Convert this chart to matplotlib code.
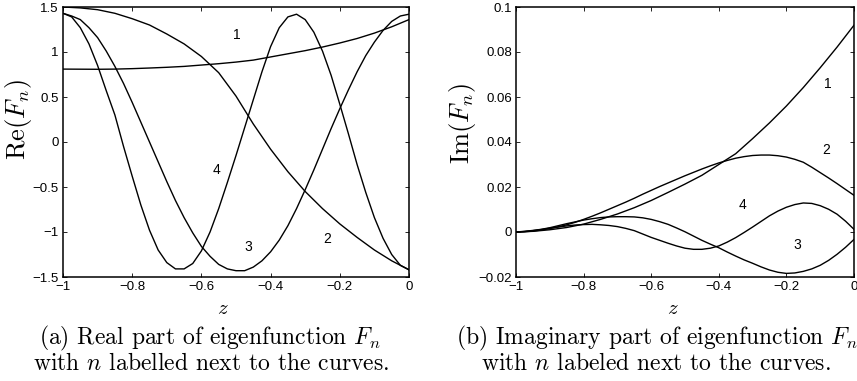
import matplotlib
matplotlib.use('Agg')
import matplotlib.pyplot as plt

plt.rcParams['font.family'] = ['Liberation Sans', 'DejaVu Sans']
plt.rcParams['mathtext.fontset'] = 'cm'

# z grid of the readings (0.025 step for the fast curves, 0.05 for the slow ones)
z_fine = [-1 + 0.025 * i for i in range(41)]
z_coarse = [-1 + 0.05 * i for i in range(21)]

# Re(F_n)
re_f1 = [0.810, 0.809, 0.808, 0.810, 0.815, 0.822, 0.830, 0.840, 0.855, 0.870,
         0.888, 0.910, 0.945, 0.980, 1.015, 1.055, 1.100, 1.150, 1.210, 1.280, 1.360]
re_f2 = [1.50, 1.49, 1.47, 1.43, 1.37, 1.30, 1.20, 1.09, 0.95, 0.77,
         0.51, 0.20, -0.08, -0.33, -0.55, -0.74, -0.91, -1.06, -1.20, -1.32, -1.42]
re_f3 = [1.43, 1.40, 1.36, 1.27, 1.16, 1.01, 0.84, 0.65, 0.44, 0.22,
         0.00, -0.22, -0.44, -0.65, -0.84, -1.01, -1.16, -1.27, -1.36, -1.41,
         -1.43, -1.43, -1.39, -1.32, -1.22, -1.09, -0.93, -0.74, -0.53, -0.31,
         -0.08, 0.15, 0.37, 0.58, 0.78, 0.96, 1.11, 1.24, 1.34, 1.40, 1.42]
re_f4 = [1.43, 1.39, 1.27, 1.09, 0.85, 0.57, 0.30, -0.05, -0.38, -0.70,
         -0.98, -1.20, -1.34, -1.41, -1.41, -1.35, -1.21, -1.00, -0.74, -0.45,
         -0.15, 0.16, 0.47, 0.78, 1.06, 1.27, 1.39, 1.42, 1.36, 1.22,
         1.01, 0.74, 0.42, 0.09, -0.25, -0.56, -0.84, -1.07, -1.25, -1.37, -1.42]

# Im(F_n)
im_f1 = [0.0, 0.0003, 0.0010, 0.0020, 0.0035, 0.0056, 0.0080, 0.0108, 0.0140, 0.0176,
         0.0213, 0.0252, 0.0300, 0.0348, 0.0415, 0.0485, 0.0560, 0.0642, 0.0730, 0.0822, 0.0919]
im_f2 = [0.0, 0.0001, 0.0004, 0.0009, 0.0015, 0.0023, 0.0032, 0.0043, 0.0056, 0.0070,
         0.0085, 0.0101, 0.0117, 0.0133, 0.0150, 0.0168, 0.0185, 0.0202, 0.0218, 0.0234,
         0.0250, 0.0265, 0.0280, 0.0294, 0.0307, 0.0318, 0.0328, 0.0335, 0.0340, 0.0342,
         0.0342, 0.0339, 0.0333, 0.0323, 0.0310, 0.0288, 0.0264, 0.0240, 0.0215, 0.0189, 0.0163]
im_f3 = [0.0, 0.0003, 0.0007, 0.0012, 0.0019, 0.0028, 0.0037, 0.0045, 0.0053, 0.0059,
         0.0064, 0.0067, 0.0068, 0.0068, 0.0067, 0.0063, 0.0056, 0.0046, 0.0034, 0.0018,
         0.0001, -0.0018, -0.0037, -0.0054, -0.0070, -0.0089, -0.0107, -0.0124, -0.0139, -0.0155,
         -0.0169, -0.0179, -0.0184, -0.0182, -0.0175, -0.0164, -0.0148, -0.0126, -0.0099, -0.0068, -0.0033]
im_f4 = [0.0, 0.0002, 0.0006, 0.0011, 0.0017, 0.0022, 0.0027, 0.0031, 0.0033, 0.0034,
         0.0032, 0.0029, 0.0024, 0.0016, 0.0006, -0.0009, -0.0024, -0.0037, -0.0050, -0.0062,
         -0.0072, -0.0077, -0.0077, -0.0072, -0.0062, -0.0045, -0.0025, -0.0002, 0.0022, 0.0047,
         0.0072, 0.0093, 0.0110, 0.0122, 0.0129, 0.0127, 0.0117, 0.0101, 0.0079, 0.0048, 0.0012]

labels = ['1', '2', '3', '4']
re_label_pos = [(-0.497, 1.19), (-0.237, -1.08), (-0.465, -1.17), (-0.555, -0.31)]
im_label_pos = [(-0.077, 0.066), (-0.083, 0.0366), (-0.167, -0.0058), (-0.329, 0.012)]

x_ticks = [-1, -0.8, -0.6, -0.4, -0.2, 0]
x_ticklabels = ['\u22121', '\u22120.8', '\u22120.6', '\u22120.4', '\u22120.2', '0']
re_ticks = [-1.5, -1, -0.5, 0, 0.5, 1, 1.5]
re_ticklabels = ['\u22121.5', '\u22121', '\u22120.5', '0', '0.5', '1', '1.5']
im_ticks = [-0.02, 0, 0.02, 0.04, 0.06, 0.08, 0.1]
im_ticklabels = ['\u22120.02', '0', '0.02', '0.04', '0.06', '0.08', '0.1']

fig = plt.figure(figsize=(8.57, 3.81), dpi=100)
ax1 = fig.add_axes([63 / 857, 104 / 381, 346 / 857, 270 / 381])
ax2 = fig.add_axes([516 / 857, 104 / 381, 338 / 857, 270 / 381])

lw = 1.0
ax1.plot(z_coarse, re_f1, color='black', lw=lw)
ax1.plot(z_coarse, re_f2, color='black', lw=lw)
ax1.plot(z_fine, re_f3, color='black', lw=lw)
ax1.plot(z_fine, re_f4, color='black', lw=lw)

ax2.plot(z_coarse, im_f1, color='black', lw=lw)
for y in (im_f2, im_f3, im_f4):
    ax2.plot(z_fine, y, color='black', lw=lw)

for ax, pos in ((ax1, re_label_pos), (ax2, im_label_pos)):
    for lab, (x, y) in zip(labels, pos):
        ax.text(x, y, lab, fontsize=10, ha='center', va='center')

ax1.set_ylim(-1.5, 1.5)
ax2.set_ylim(-0.02, 0.1)
ax1.set_yticks(re_ticks)
ax1.set_yticklabels(re_ticklabels)
ax2.set_yticks(im_ticks)
ax2.set_yticklabels(im_ticklabels)

for ax in (ax1, ax2):
    ax.set_xlim(-1, 0)
    ax.set_xticks(x_ticks)
    ax.set_xticklabels(x_ticklabels)
    ax.tick_params(direction='in', length=3, width=0.6, top=True, right=True,
                   labelsize=9.5, pad=3)
    for s in ax.spines.values():
        s.set_linewidth(1.1)

# axis titles placed as figure text, as in the reference
fig.text(19 / 857, 1 - 120 / 381, r'$\mathrm{Re}(F_n)$', fontsize=19,
         rotation=90, ha='center', va='center')
fig.text(463 / 857, 1 - 123 / 381, r'$\mathrm{Im}(F_n)$', fontsize=19,
         rotation=90, ha='center', va='center')

fig.text(223 / 857, 1 - 308 / 381, r'$z$', fontsize=15, ha='center', va='center')
fig.text(673 / 857, 1 - 308 / 381, r'$z$', fontsize=15, ha='center', va='center')

cap_kw = dict(fontsize=17, ha='center', va='center', family='cmr10')
fig.text(210 / 857, 1 - 338 / 381, r'(a) Real part of eigenfunction $F_n$', **cap_kw)
fig.text(211 / 857, 1 - 364 / 381, r'with $n$ labelled next to the curves.', **cap_kw)
fig.text(657 / 857, 1 - 338 / 381, r'(b) Imaginary part of eigenfunction $F_n$', **cap_kw)
fig.text(656 / 857, 1 - 364 / 381, r'with $n$ labeled next to the curves.', **cap_kw)

fig.savefig('out.png', dpi=100)
